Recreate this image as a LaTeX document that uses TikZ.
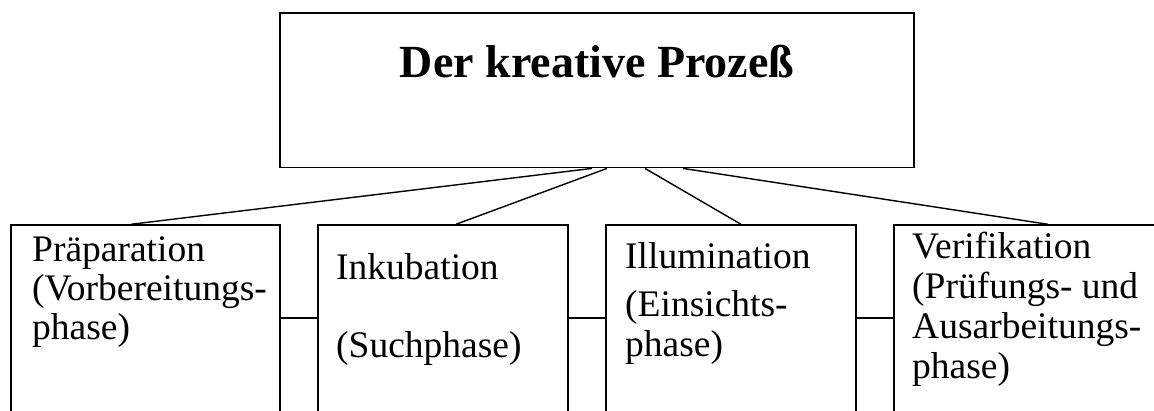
\documentclass[tikz,border=0pt]{standalone}
\usepackage{fontspec}
\setmainfont{Liberation Serif}
\begin{document}
\begin{tikzpicture}[x=1pt,y=-1pt,
  box/.style={draw, line width=1.4pt, inner sep=0pt, rectangle},
  lbl/.style={anchor=base west, inner sep=0pt, font=\fontsize{37.5}{43}\selectfont},
  link/.style={line width=1.4pt}]
\useasboundingbox (0,0) rectangle (1154,410);
\clip (0,0) rectangle (1154,410);
% top box
\node[box, minimum width=634pt, minimum height=154.7pt] (top) at (597,90.35) {};
\node[anchor=base, inner sep=0pt, font=\fontsize{46}{50}\selectfont\bfseries] (title) at (597,77) {Der kreative Prozeß};
% phase boxes (bottom edges lie below the visible area)
\node[box, minimum width=269pt, minimum height=210pt] (b1) at (145.5,330) {};
\node[box, minimum width=250pt, minimum height=210pt] (b2) at (443,330) {};
\node[box, minimum width=250pt, minimum height=210pt] (b3) at (731,330) {};
\node[box, minimum width=270pt, minimum height=210pt] (b4) at (1029,330) {};
% texts
\node[lbl] (t1a) at (32,261) {Präparation};
\node[lbl] (t1b) at (32,300) {(Vorbereitungs-};
\node[lbl] (t1c) at (32,339) {phase)};
\node[lbl] (t2a) at (336,279) {Inkubation};
\node[lbl] (t2b) at (336,357) {(Suchphase)};
\node[lbl] (t3a) at (625,268) {Illumination};
\node[lbl] (t3b) at (625,316) {(Einsichts-};
\node[lbl] (t3c) at (625,356) {phase)};
\node[lbl] (t4a) at (912,258) {Verifikation};
\node[lbl] (t4b) at (912,298) {(Prüfungs- und};
\node[lbl] (t4c) at (912,338) {Ausarbeitungs-};
\node[lbl] (t4d) at (912,378) {phase)};
% connectors
\draw[link] ([xshift=-5pt]top.south) -- ([xshift=-14.5pt]b1.north);
\draw[link] ([xshift=10pt]top.south) -- ([xshift=13pt]b2.north);
\draw[link] ([xshift=48pt]top.south) -- ([xshift=10pt]b3.north);
\draw[link] ([xshift=86pt]top.south) -- ([xshift=19pt]b4.north);
\draw[link] ([yshift=12pt]b1.east) -- ([yshift=12pt]b2.west);
\draw[link] ([yshift=12pt]b2.east) -- ([yshift=12pt]b3.west);
\draw[link] ([yshift=12pt]b3.east) -- ([yshift=12pt]b4.west);
\end{tikzpicture}
\end{document}
